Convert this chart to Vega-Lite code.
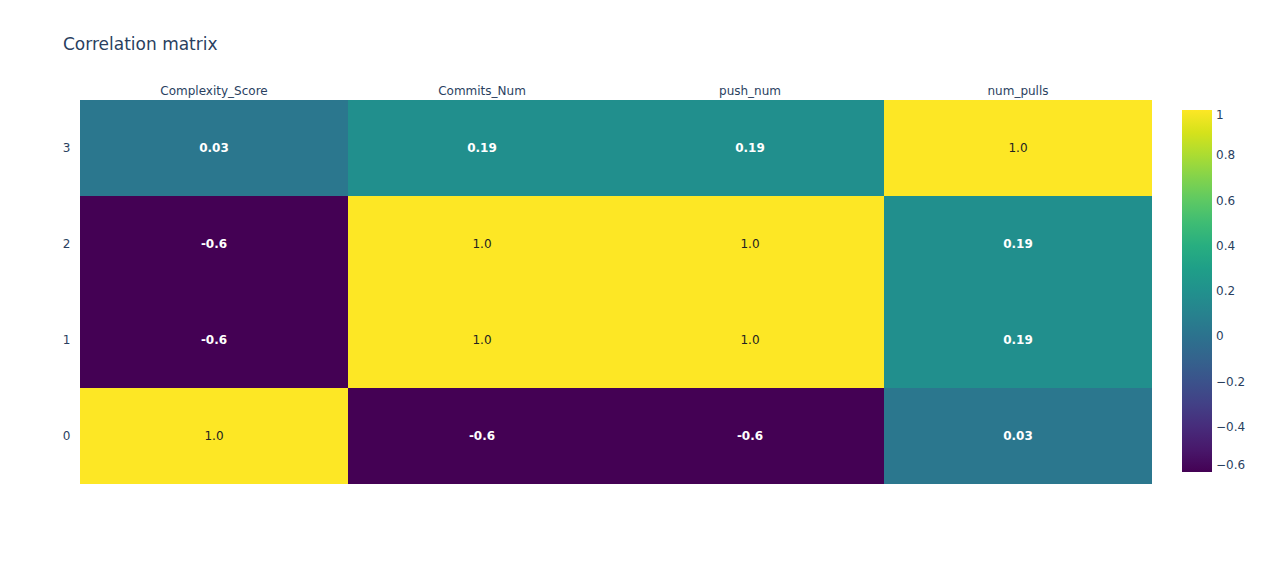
{
  "$schema": "https://vega.github.io/schema/vega-lite/v6.json",
  "autosize": {"type": "none"},
  "padding": {"left": 80, "top": 100, "right": 112, "bottom": 79},
  "width": 1072,
  "height": 384,
  "background": "white",
  "title": {
    "text": "Correlation matrix",
    "anchor": "start",
    "frame": "group",
    "dx": -17,
    "offset": 30,
    "fontSize": 17,
    "font": "DejaVu Sans",
    "fontWeight": "normal",
    "color": "#2a3f5f"
  },
  "config": {
    "view": {"stroke": null},
    "font": "DejaVu Sans"
  },
  "data": {
    "values": [
      {"x": "Complexity_Score", "y": "0", "v": 1.0, "label": "1.0"},
      {"x": "Commits_Num", "y": "0", "v": -0.6, "label": "-0.6"},
      {"x": "push_num", "y": "0", "v": -0.6, "label": "-0.6"},
      {"x": "num_pulls", "y": "0", "v": 0.03, "label": "0.03"},
      {"x": "Complexity_Score", "y": "1", "v": -0.6, "label": "-0.6"},
      {"x": "Commits_Num", "y": "1", "v": 1.0, "label": "1.0"},
      {"x": "push_num", "y": "1", "v": 1.0, "label": "1.0"},
      {"x": "num_pulls", "y": "1", "v": 0.19, "label": "0.19"},
      {"x": "Complexity_Score", "y": "2", "v": -0.6, "label": "-0.6"},
      {"x": "Commits_Num", "y": "2", "v": 1.0, "label": "1.0"},
      {"x": "push_num", "y": "2", "v": 1.0, "label": "1.0"},
      {"x": "num_pulls", "y": "2", "v": 0.19, "label": "0.19"},
      {"x": "Complexity_Score", "y": "3", "v": 0.03, "label": "0.03"},
      {"x": "Commits_Num", "y": "3", "v": 0.19, "label": "0.19"},
      {"x": "push_num", "y": "3", "v": 0.19, "label": "0.19"},
      {"x": "num_pulls", "y": "3", "v": 1.0, "label": "1.0"}
    ]
  },
  "encoding": {
    "x": {
      "field": "x",
      "type": "nominal",
      "sort": ["Complexity_Score", "Commits_Num", "push_num", "num_pulls"],
      "scale": {"paddingInner": 0, "paddingOuter": 0},
      "axis": {
        "orient": "top",
        "title": null,
        "ticks": false,
        "domain": false,
        "labelAngle": 0,
        "labelPadding": 3,
        "labelFontSize": 12,
        "labelColor": "#2a3f5f",
        "labelFont": "DejaVu Sans"
      }
    },
    "y": {
      "field": "y",
      "type": "nominal",
      "sort": "descending",
      "scale": {"paddingInner": 0, "paddingOuter": 0},
      "axis": {
        "title": null,
        "ticks": false,
        "domain": false,
        "labelPadding": 10,
        "labelFontSize": 12,
        "labelColor": "#2a3f5f",
        "labelFont": "DejaVu Sans"
      }
    }
  },
  "layer": [
    {
      "mark": {"type": "rect", "strokeWidth": 0},
      "encoding": {
        "color": {
          "field": "v",
          "type": "quantitative",
          "scale": {"scheme": "viridis", "domain": [-0.6, 1]},
          "legend": {
            "orient": "none",
            "legendX": 1102,
            "legendY": 10,
            "title": null,
            "direction": "vertical",
            "gradientLength": 362,
            "gradientThickness": 30,
            "gradientStrokeWidth": 0,
            "values": [-0.6, -0.4, -0.2, 0, 0.2, 0.4, 0.6, 0.8, 1],
            "format": "~g",
            "labelExpr": "replace(datum.label, '-', '\u2212')",
            "labelFontSize": 12,
            "labelColor": "#2a3f5f",
            "labelFont": "DejaVu Sans",
            "labelOffset": 4,
            "labelFlush": false,
            "labelOverlap": false
          }
        }
      }
    },
    {
      "transform": [{"filter": "datum.v >= 0.5"}],
      "mark": {"type": "text", "fontSize": 12, "font": "DejaVu Sans", "color": "#222222"},
      "encoding": {
        "text": {"field": "label"}
      }
    },
    {
      "transform": [{"filter": "datum.v < 0.5"}],
      "mark": {"type": "text", "fontSize": 12, "font": "DejaVu Sans", "fontWeight": "bold", "color": "#ffffff"},
      "encoding": {
        "text": {"field": "label"}
      }
    }
  ]
}
